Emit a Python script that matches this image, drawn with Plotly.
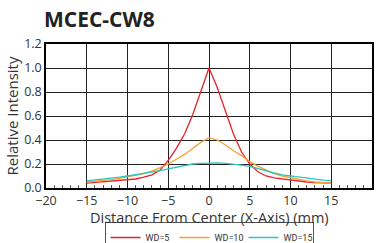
import plotly.graph_objects as go

x_mm = [-15, -14, -13, -12, -11, -10, -9, -8, -7, -6, -5, -4, -3, -2, -1, 0,
        1, 2, 3, 4, 5, 6, 7, 8, 9, 10, 11, 12, 13, 14, 15]

wd5 = [0.04, 0.045, 0.05, 0.055, 0.06, 0.068, 0.075, 0.09, 0.11, 0.15, 0.23, 0.33, 0.45, 0.61, 0.8, 1.0,
       0.84, 0.64, 0.45, 0.3, 0.2, 0.135, 0.1, 0.085, 0.075, 0.065, 0.057, 0.05, 0.045, 0.042, 0.04]
wd10 = [0.05, 0.055, 0.06, 0.07, 0.08, 0.09, 0.105, 0.12, 0.14, 0.17, 0.2, 0.24, 0.28, 0.33, 0.38, 0.42,
        0.4, 0.36, 0.31, 0.27, 0.22, 0.18, 0.15, 0.12, 0.1, 0.085, 0.07, 0.06, 0.05, 0.045, 0.04]
wd15 = [0.06, 0.066, 0.073, 0.08, 0.09, 0.1, 0.11, 0.12, 0.13, 0.145, 0.16, 0.175, 0.19, 0.2, 0.205, 0.21,
        0.21, 0.205, 0.2, 0.19, 0.18, 0.16, 0.14, 0.125, 0.11, 0.1, 0.09, 0.08, 0.072, 0.065, 0.06]

series = [("WD=5", wd5, "#e8202a"), ("WD=10", wd10, "#f7a035"), ("WD=15", wd15, "#2ec4c0")]

x_title = "Distance From Center (X-Axis) (mm)"
y_title = "Relative Intensity"

font_family = "Open Sans, Noto Sans, sans-serif"

fig = go.Figure()
for name, ys, color in series:
    fig.add_trace(go.Scatter(x=x_mm, y=ys, mode="lines", name=name,
                             line=dict(color=color, width=1.3)))

fig.update_layout(
    width=379, height=243,
    margin=dict(l=46, r=7, t=44, b=55, autoexpand=False),
    paper_bgcolor="white", plot_bgcolor="white",
    font=dict(family=font_family, color="#333333"),
    title=dict(text="<b>MCEC-CW8</b>", font=dict(size=21, color="#222222"),
               x=44/379, xanchor="left", xref="container",
               y=1-20/243, yanchor="middle", yref="container",
               pad=dict(l=0, r=0, t=0, b=0)),
    showlegend=True,
    legend=dict(orientation="h", x=0.5, xanchor="center",
                y=(243-222)/243, yanchor="top", yref="container",
                bordercolor="#555555", borderwidth=1,
                font=dict(size=9, family="Liberation Sans Narrow, Roboto, sans-serif"),
                itemwidth=30, entrywidth=24, tracegroupgap=0),
    annotations=[dict(text=x_title, xref="paper", yref="paper", x=0.5, y=-(217 - 188) / 144,
                      xanchor="center", yanchor="middle", showarrow=False,
                      font=dict(size=14.5, color="#333333"))],
)
fig.update_xaxes(range=[-20, 20], dtick=5, showgrid=True, gridcolor="#222222", gridwidth=1,
                 showline=True, linecolor="black", linewidth=1.5, mirror=True,
                 zeroline=False, ticks="", tickfont=dict(size=12.5), automargin=False,
                 minor=dict(dtick=1, ticks="inside", ticklen=3, tickcolor="#555555", showgrid=False))
fig.update_yaxes(range=[0, 1.2], dtick=0.2, tickformat=".1f", showgrid=True, gridcolor="#222222",
                 gridwidth=1, showline=True, linecolor="black", linewidth=1.5, mirror=True,
                 zeroline=False, ticks="", tickfont=dict(size=12.5), automargin=False,
                 title=dict(text=y_title, font=dict(size=15), standoff=2))

fig.write_html("out.html", config={"displayModeBar": False},
               post_script="document.body.style.margin='0';")
